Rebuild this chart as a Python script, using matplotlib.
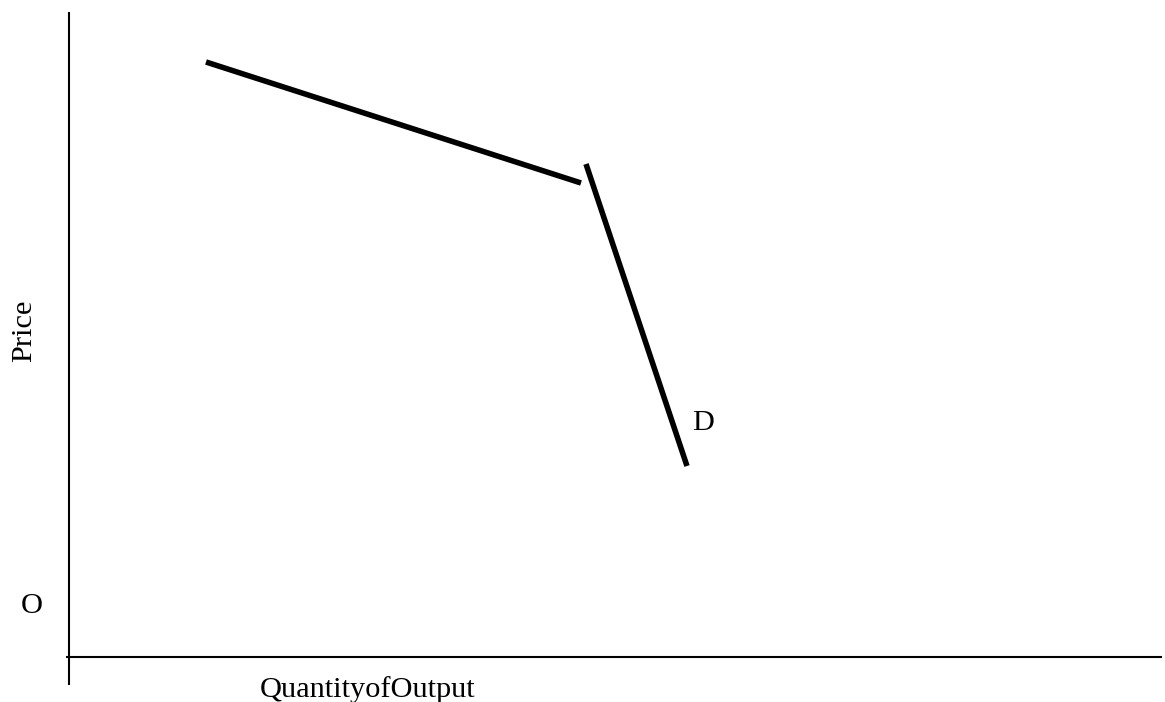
import matplotlib
matplotlib.use('Agg')
import matplotlib.pyplot as plt

# kinked demand curve, units: quantity 0..~109, price 0..~65
upper_q = [13.7, 51.2]
upper_p = [59.5, 47.4]
lower_q = [51.7, 61.8]
lower_p = [49.3, 19.1]

xaxis_q = [-0.3, 109.3]
yaxis_p = [-2.8, 64.5]

plt.rcParams['font.family'] = ['Liberation Serif', 'DejaVu Serif']

fig = plt.figure(figsize = [11.65, 7.02], dpi = 100)
ax = fig.add_axes([0, 0, 1, 1])
ax.set_xlim(-6.9, 109.6)
ax.set_ylim(-4.5, 65.7)
ax.axis('off')

# axes
ax.plot(xaxis_q, [0, 0], color = 'black', lw = 1.5, solid_capstyle = 'butt')
ax.plot([0, 0], yaxis_p, color = 'black', lw = 1.5, solid_capstyle = 'butt')

# demand segments
ax.plot(upper_q, upper_p, color = 'black', lw = 4, solid_capstyle = 'butt')
ax.plot(lower_q, lower_p, color = 'black', lw = 4, solid_capstyle = 'butt')

ax.text(63.4, 23.4, 'D', fontsize = 21.9, ha = 'center', va = 'center')
ax.text(-3.7, 5.1, 'O', fontsize = 21.9, ha = 'center', va = 'center')
ax.text(-4.5, 32.6, 'Price', fontsize = 21.9, rotation = 90,
        ha = 'center', va = 'center')
ax.text(29.9, -3.3, 'QuantityofOutput', fontsize = 21.9,
        ha = 'center', va = 'center')

plt.savefig('out.png', dpi = 100)
